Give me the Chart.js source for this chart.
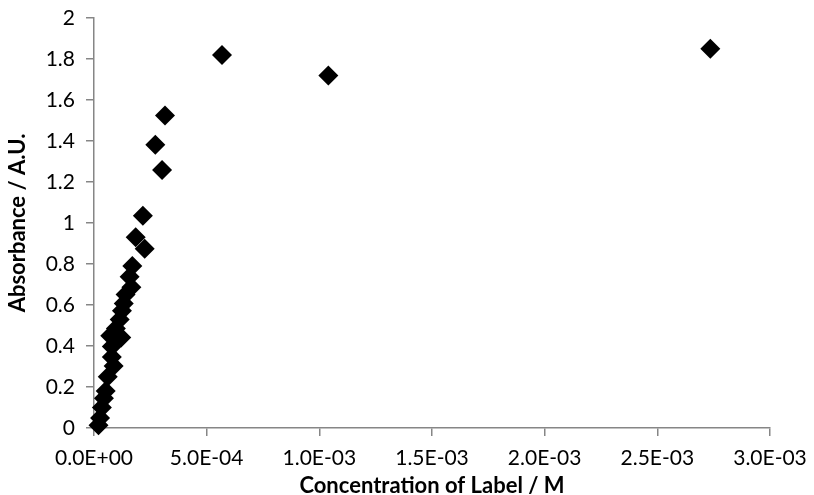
<!DOCTYPE html>
<html>
<head>
<meta charset="utf-8">
<script src="https://cdn.jsdelivr.net/npm/chart.js@4/dist/chart.umd.min.js"></script>
<style>
  body { margin: 0; background: #fff; }
  #wrap { width: 814px; height: 495px; position: relative; }
</style>
</head>
<body>
<div id="wrap"><canvas id="myChart"></canvas></div>
<script>
// concentration (M) and absorbance (A.U.)
const concentration = [
  0.20e-4, 0.27e-4, 0.35e-4, 0.44e-4, 0.52e-4, 0.61e-4, 0.87e-4, 0.79e-4, 0.79e-4,
  1.21e-4, 0.72e-4, 0.97e-4, 1.14e-4, 1.24e-4, 1.32e-4, 1.40e-4, 1.66e-4,
  1.58e-4, 1.70e-4, 1.85e-4, 2.25e-4, 2.17e-4, 3.02e-4, 2.72e-4, 3.15e-4,
  5.68e-4, 10.4e-4, 27.35e-4
];
const absorbance = [
  0.014, 0.049, 0.10, 0.145, 0.18, 0.25, 0.302, 0.346, 0.398,
  0.441, 0.450, 0.485, 0.529, 0.572, 0.607, 0.651, 0.686,
  0.738, 0.79, 0.93, 0.875, 1.035, 1.258, 1.382, 1.525,
  1.82, 1.72, 1.85
];
const xTickLabels = ['0.0E+00', '5.0E-04', '1.0E-03', '1.5E-03', '2.0E-03', '2.5E-03', '3.0E-03'];
const yTickLabels = ['0', '0.2', '0.4', '0.6', '0.8', '1', '1.2', '1.4', '1.6', '1.8', '2'];

const points = concentration.map((c, i) => ({ x: c, y: absorbance[i] }));

const axisGrey = '#868686';
const ctx = document.getElementById('myChart').getContext('2d');
let myChart = new Chart(ctx, {
  type: 'scatter',
  data: {
    datasets: [
      {
        label: 'Absorbance',
        data: points,
        pointStyle: 'rectRot',
        pointRadius: 10,
        pointHoverRadius: 10,
        backgroundColor: '#000',
        borderColor: '#000',
        borderWidth: 0,
        clip: false
      }
    ]
  },
  options: {
    responsive: true,
    maintainAspectRatio: false,
    animation: false,
    layout: { padding: { left: 0, right: 44, top: 18, bottom: 0 } },
    plugins: { legend: { display: false }, tooltip: { enabled: false } },
    scales: {
      x: {
        type: 'linear',
        min: 0,
        max: 0.003,
        afterFit: (scale) => {
          scale.height = 67;
          scale.paddingLeft = 0;
          scale.paddingRight = 0;
        },
        border: { color: axisGrey, width: 1.5 },
        grid: { drawOnChartArea: false, tickLength: 8, color: axisGrey, lineWidth: 1.5 },
        ticks: {
          stepSize: 0.0005,
          padding: 10,
          color: '#000',
          font: { family: 'Lato', size: 21 },
          maxRotation: 0,
          callback: (v, i) => xTickLabels[i]
        },
        title: {
          display: true,
          text: 'Concentration of Label / M',
          color: '#000',
          font: { family: 'Lato', size: 22, weight: 'bold', lineHeight: 0.8 },
          padding: { top: 0, bottom: 0 }
        }
      },
      y: {
        type: 'linear',
        min: 0,
        max: 2,
        afterFit: (scale) => {
          scale.width = 94;
          scale.paddingTop = 0;
          scale.paddingBottom = 0;
        },
        border: { color: axisGrey, width: 1.5 },
        grid: { drawOnChartArea: false, tickLength: 8, color: axisGrey, lineWidth: 1.5 },
        ticks: {
          stepSize: 0.2,
          padding: 11,
          color: '#000',
          font: { family: 'Lato', size: 21 },
          callback: (v, i) => yTickLabels[i]
        },
        title: {
          display: true,
          text: 'Absorbance / A.U.',
          color: '#000',
          font: { family: 'Lato', size: 22, weight: 'bold' },
          padding: { top: 5, bottom: 0 }
        }
      }
    }
  }
});
</script>
</body>
</html>
